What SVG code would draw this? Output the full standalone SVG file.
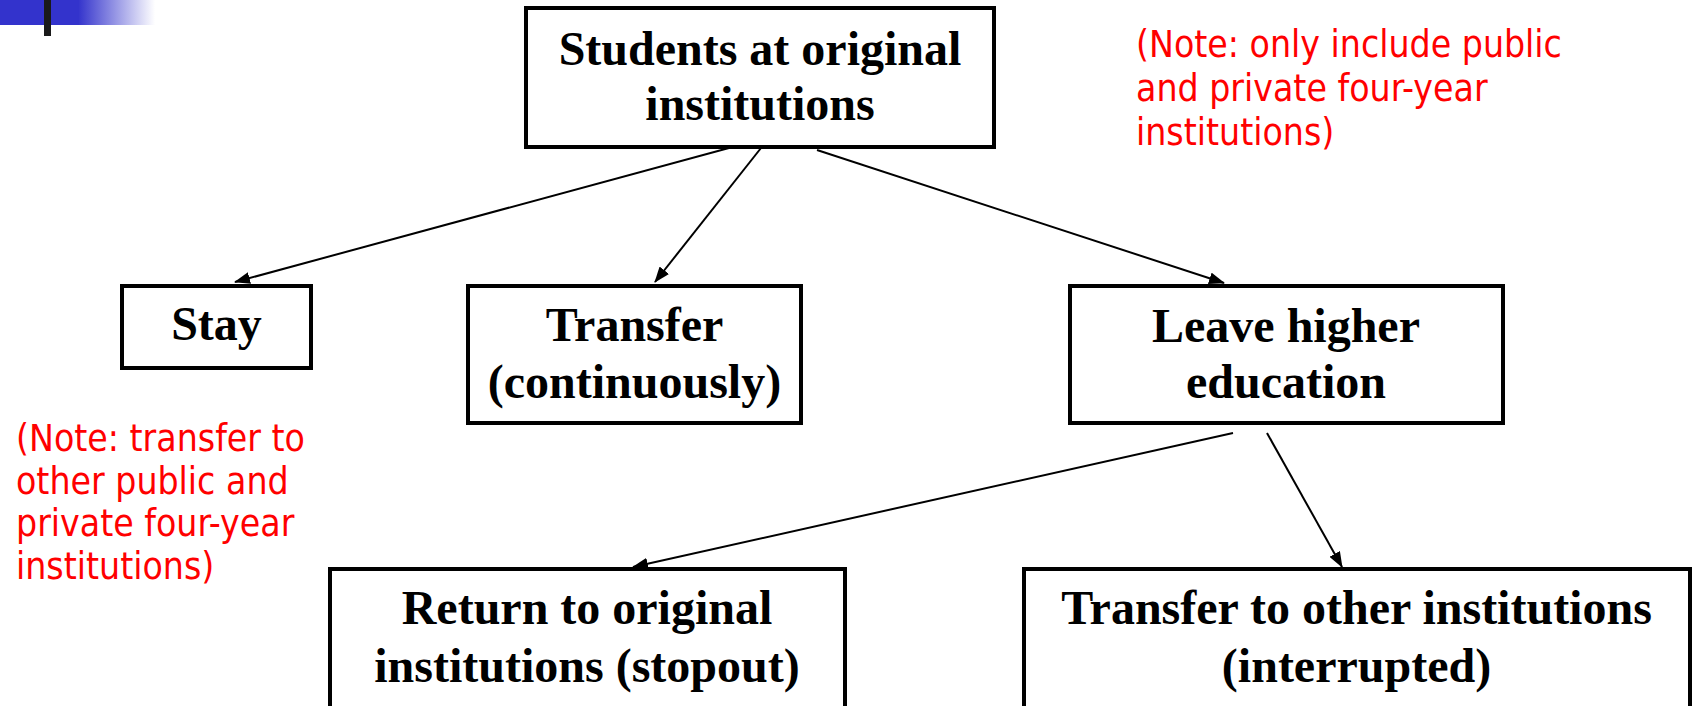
<svg xmlns="http://www.w3.org/2000/svg" width="1692" height="706" viewBox="0 0 1692 706">
<style>
.box{fill:#fff;stroke:#000;stroke-width:4}
.t{font-family:"Liberation Serif","Times New Roman",serif;font-weight:bold;font-size:48px;fill:#000;text-anchor:middle}
.n{font-family:"DejaVu Sans Condensed","DejaVu Sans","Liberation Sans",sans-serif;font-size:37px;fill:#ff0000}
.c{stroke:#000;stroke-width:2;fill:none;marker-end:url(#ah)}
</style>
<defs>
<linearGradient id="bg" x1="0" y1="0" x2="1" y2="0">
<stop offset="0" stop-color="#3333cc"/>
<stop offset="1" stop-color="#3333cc" stop-opacity="0"/>
</linearGradient>
<marker id="ah" markerWidth="16" markerHeight="12" refX="15" refY="6" orient="auto" markerUnits="userSpaceOnUse">
<path d="M0,0 L16,6 L0,12 Z" fill="#000"/>
</marker>
</defs>
<g id="decor">
<rect x="0" y="0" width="79" height="25" fill="#3333cc"/>
<rect x="78" y="0" width="77" height="25" fill="url(#bg)"/>
<rect x="44" y="0" width="7" height="36" fill="#1a1a1a"/>
</g>
<g id="connectors">
<line class="c" x1="740" y1="145" x2="235" y2="282"/>
<line class="c" x1="761" y1="148" x2="655" y2="282"/>
<line class="c" x1="817" y1="150" x2="1224" y2="283"/>
<line class="c" x1="1233" y1="433" x2="633" y2="567"/>
<line class="c" x1="1267" y1="433" x2="1342" y2="567"/>
</g>
<g id="n-students">
<rect class="box" x="526" y="8" width="468" height="139"/>
<text class="t" x="760" y="65">Students at original</text>
<text class="t" x="760" y="120">institutions</text>
</g>
<g id="n-stay">
<rect class="box" x="122" y="286" width="189" height="82"/>
<text class="t" x="216.5" y="340">Stay</text>
</g>
<g id="n-transfer">
<rect class="box" x="468" y="286" width="333" height="137"/>
<text class="t" x="634.5" y="341">Transfer</text>
<text class="t" x="634.5" y="398">(continuously)</text>
</g>
<g id="n-leave">
<rect class="box" x="1070" y="286" width="433" height="137"/>
<text class="t" x="1286" y="342">Leave higher</text>
<text class="t" x="1286" y="398">education</text>
</g>
<g id="n-return">
<rect class="box" x="330" y="569" width="515" height="150"/>
<text class="t" x="587" y="624">Return to original</text>
<text class="t" x="587" y="682">institutions (stopout)</text>
</g>
<g id="n-transfer-other">
<rect class="box" x="1024" y="569" width="666" height="150"/>
<text class="t" x="1356.5" y="624">Transfer to other institutions</text>
<text class="t" x="1356.5" y="682">(interrupted)</text>
</g>
<g id="note-top">
<text class="n" x="1136" y="57">(Note: only include public</text>
<text class="n" x="1136" y="101">and private four-year</text>
<text class="n" x="1136" y="145">institutions)</text>
</g>
<g id="note-left">
<text class="n" x="16" y="451">(Note: transfer to</text>
<text class="n" x="16" y="494">other public and</text>
<text class="n" x="16" y="536">private four-year</text>
<text class="n" x="16" y="579">institutions)</text>
</g>
</svg>
